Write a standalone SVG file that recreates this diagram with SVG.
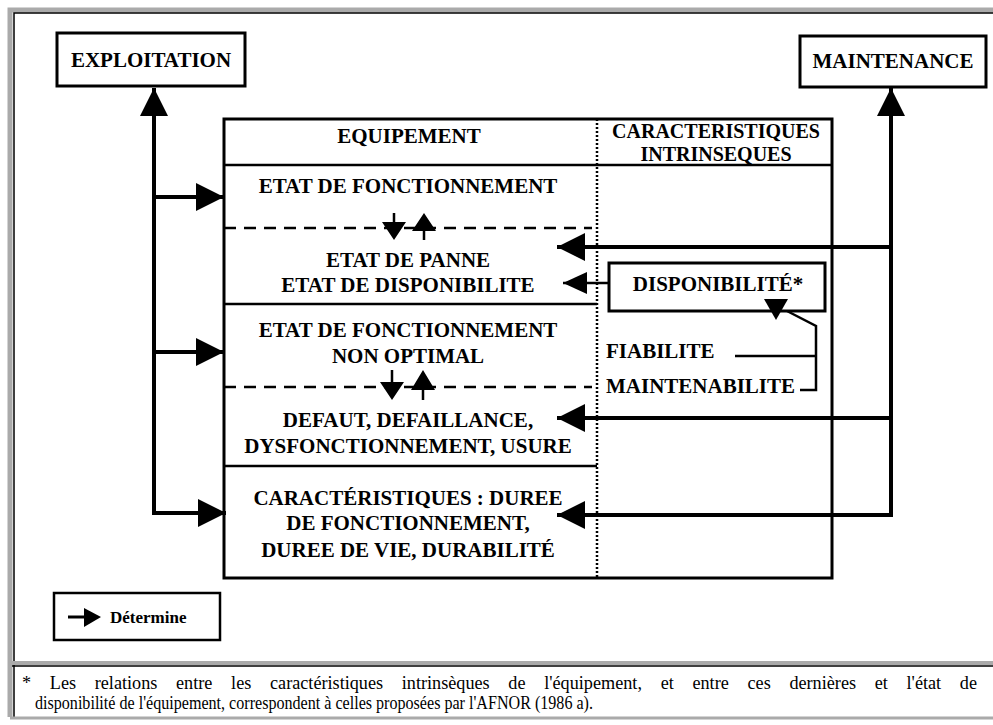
<svg xmlns="http://www.w3.org/2000/svg" width="993" height="725" viewBox="0 0 993 725">
<style>
.t{font-family:"Liberation Serif","Times New Roman",serif;font-weight:bold;font-size:21px;fill:#000}
.c{text-anchor:middle}
.h{font-size:20px}
.f{font-family:"Liberation Serif","Times New Roman",serif;font-size:18px;fill:#000}
.box{fill:#fff;stroke:#000;stroke-width:3}
.ln{fill:none;stroke:#000;stroke-width:4}
.thin{fill:none;stroke:#000;stroke-width:2.5}
.dash{fill:none;stroke:#000;stroke-width:2.5;stroke-dasharray:12,8}
.dot{fill:none;stroke:#000;stroke-width:2.5;stroke-dasharray:2,2}
.hd{fill:#000}
</style>
<defs>
<marker id="big" markerUnits="userSpaceOnUse" markerWidth="30" markerHeight="30" refX="28" refY="14" orient="auto">
<path d="M0,0 L28,14 L0,28 z" fill="#000"/>
</marker>
<marker id="mid" markerUnits="userSpaceOnUse" markerWidth="26" markerHeight="26" refX="24" refY="11" orient="auto">
<path d="M0,0 L24,11 L0,22 z" fill="#000"/>
</marker>
</defs>
<rect width="993" height="725" fill="#fff"/>
<g id="frame">
<path d="M10,717 V10 H993" fill="none" stroke="#aaa" stroke-width="5"/>
<path d="M14,717 V13 H993" fill="none" stroke="#000" stroke-width="1.5"/>
<path d="M10,663 H993" fill="none" stroke="#aaa" stroke-width="4"/>
<path d="M12,666 H993" fill="none" stroke="#000" stroke-width="1.5"/>
<path d="M10,718 H993" fill="none" stroke="#aaa" stroke-width="3"/>
</g>
<g id="exploitation">
<rect class="box" x="57" y="33" width="188" height="53"/>
<text class="t c" x="151" y="67">EXPLOITATION</text>
</g>
<g id="maintenance">
<rect class="box" x="800" y="36" width="186" height="51"/>
<text class="t c" x="893" y="68">MAINTENANCE</text>
</g>
<g id="table">
<rect class="box" x="224" y="119" width="608" height="459"/>
<path class="thin" d="M224,165 H832"/>
<path class="thin" d="M224,304 H597 M224,466 H597"/>
<path class="dot" d="M597,119 V578"/>
<path class="dash" d="M224,228 H592 M224,387 H592"/>
<text class="t c" x="409" y="143">EQUIPEMENT</text>
<text class="t c h" x="716" y="138">CARACTERISTIQUES</text>
<text class="t c h" x="716" y="161">INTRINSEQUES</text>
</g>
<g id="etat-fonctionnement">
<text class="t c" x="408" y="193">ETAT DE FONCTIONNEMENT</text>
</g>
<g id="etat-panne">
<text class="t c" x="408" y="267">ETAT DE PANNE</text>
<text class="t c" x="408" y="292">ETAT DE DISPONIBILITE</text>
</g>
<g id="etat-non-optimal">
<text class="t c" x="408" y="337">ETAT DE FONCTIONNEMENT</text>
<text class="t c" x="408" y="363">NON OPTIMAL</text>
</g>
<g id="defaut">
<text class="t c" x="408" y="427">DEFAUT, DEFAILLANCE,</text>
<text class="t c" x="408" y="453">DYSFONCTIONNEMENT, USURE</text>
</g>
<g id="caracteristiques">
<text class="t c" x="408" y="505">CARACTÉRISTIQUES : DUREE</text>
<text class="t c" x="408" y="530">DE FONCTIONNEMENT,</text>
<text class="t c" x="408" y="557">DUREE DE VIE, DURABILITÉ</text>
</g>
<g id="disponibilite">
<rect class="box" x="609" y="263" width="216" height="48"/>
<text class="t c" x="718" y="291">DISPONIBILITÉ*</text>
</g>
<g id="fiabilite">
<text class="t" x="606" y="358">FIABILITE</text>
</g>
<g id="maintenabilite">
<text class="t" x="606" y="393">MAINTENABILITE</text>
</g>
<g id="legend">
<rect x="54" y="593" width="166" height="47" fill="#fff" stroke="#000" stroke-width="2.5"/>
<path d="M68,617 H86" stroke="#000" stroke-width="3"/>
<path class="hd" d="M84,608 L101,617 L84,627 z"/>
<text class="t" x="110" y="623" style="font-size:17px">Détermine</text>
</g>
<g id="footnote">
<text class="f" x="22" y="689" style="word-spacing:14px" textLength="955" lengthAdjust="spacingAndGlyphs">* Les relations entre les caractéristiques intrinsèques de l'équipement, et entre ces dernières et l'état de</text>
<text class="f" x="35" y="709" textLength="558" lengthAdjust="spacingAndGlyphs">disponibilité de l'équipement, correspondent à celles proposées par l'AFNOR (1986 a).</text>
</g>
<g id="connectors">
<path class="ln" d="M154,513 V88" marker-end="url(#big)"/>
<path class="ln" d="M154,197 H224" marker-end="url(#big)"/>
<path class="ln" d="M154,352 H224" marker-end="url(#big)"/>
<path class="ln" d="M152,513 H226" marker-end="url(#big)"/>
<path class="ln" d="M891,515 V88" marker-end="url(#big)"/>
<path class="ln" d="M891,247 H557" marker-end="url(#big)"/>
<path class="ln" d="M891,418 H557" marker-end="url(#big)"/>
<path class="ln" d="M893,515 H557" marker-end="url(#big)"/>
<path class="thin" d="M609,283 H563" marker-end="url(#mid)"/>
<path class="thin" d="M735,356 H816 M800,390 H816 V326 L787,311"/>
<path class="hd" d="M764,299 L788,299 L776,320 z"/>
<path class="thin" d="M394,213 V228 M424,231 V240"/>
<path class="hd" d="M382,222 L406,222 L394,240 z M412,231 L436,231 L424,213 z"/>
<path class="thin" d="M392,370 V385 M423,390 V400"/>
<path class="hd" d="M380,382 L404,382 L392,400 z M411,390 L435,390 L423,370 z"/>
</g>
</svg>
